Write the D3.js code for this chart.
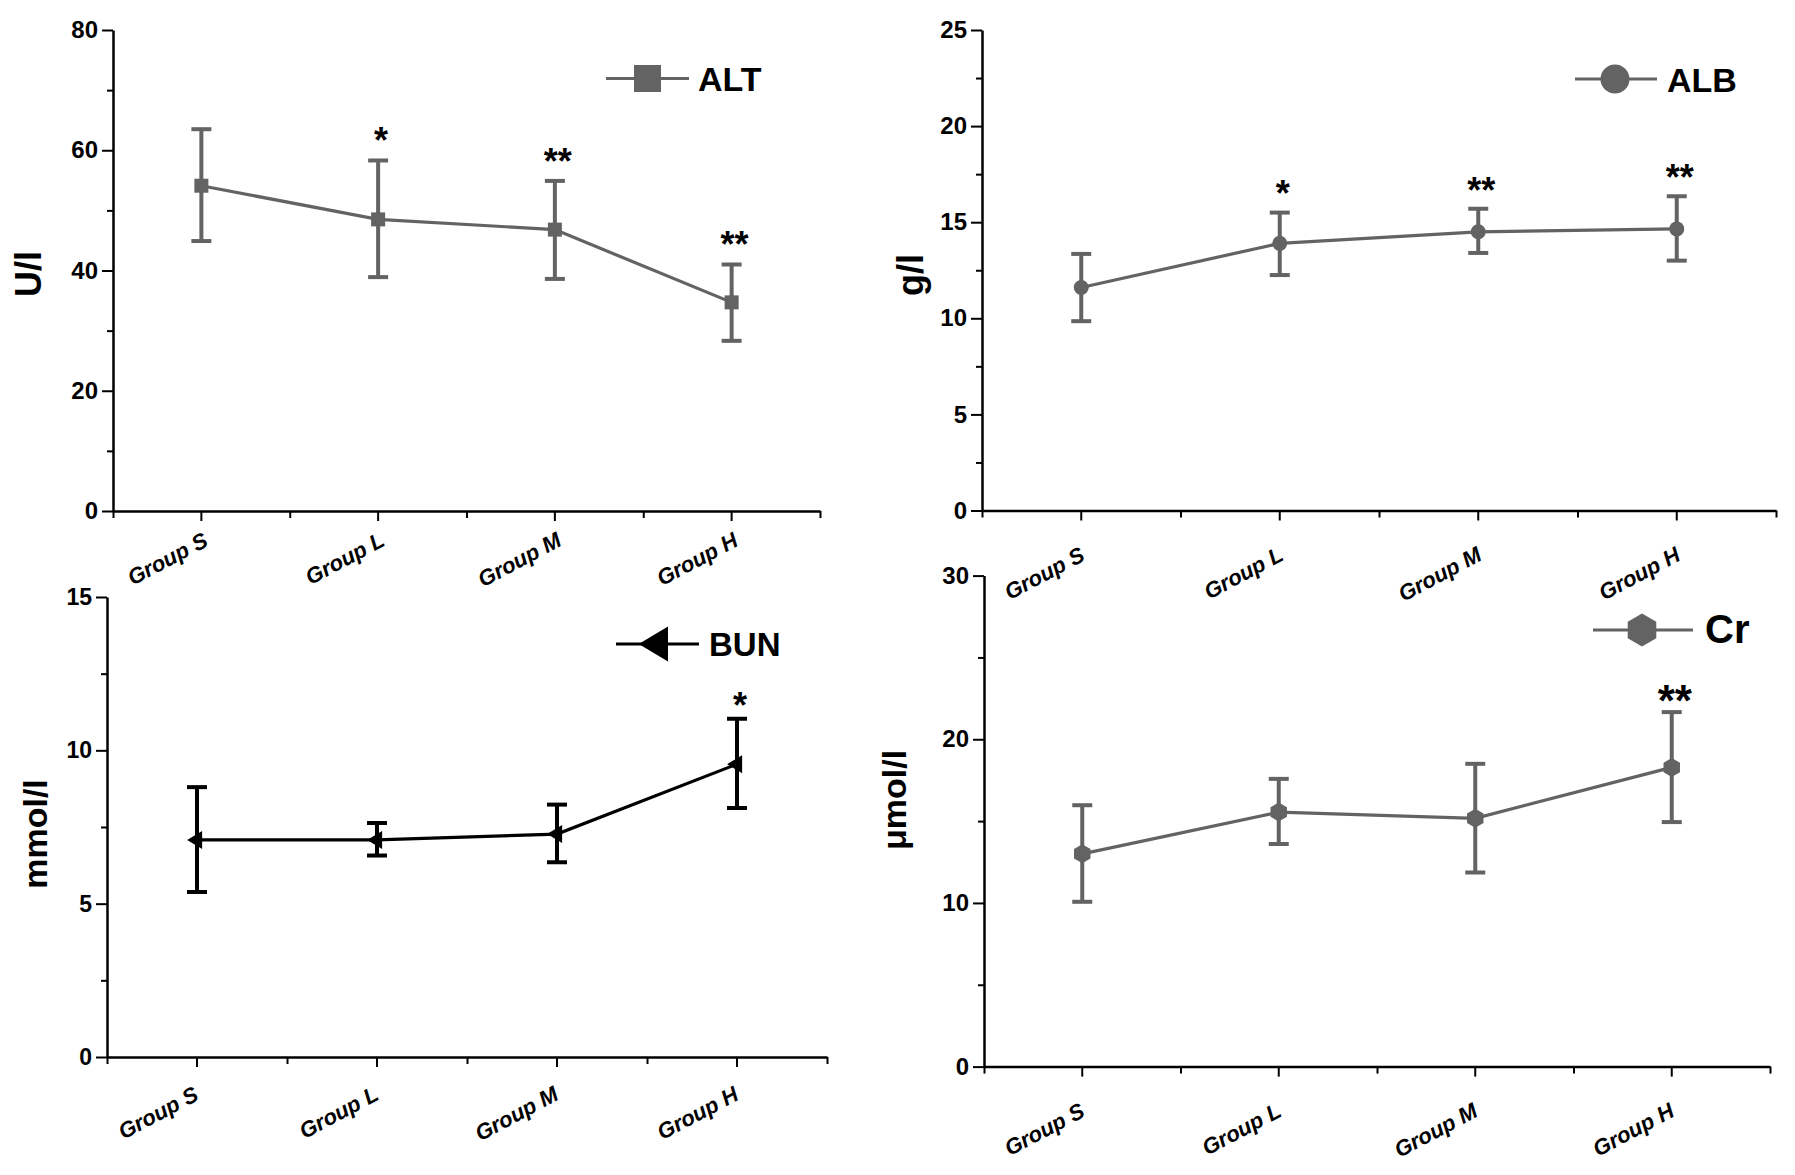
<!DOCTYPE html>
<html>
<head>
<meta charset="utf-8">
<script src="https://cdn.jsdelivr.net/npm/d3@7"></script>
<style>
  html, body { margin: 0; padding: 0; background: #fff; }
  svg { display: block; font-family: "Liberation Sans", Arial, Helvetica, sans-serif; }
</style>
</head>
<body>
<svg id="chart" width="1795" height="1175"></svg>
<script>
// ---------------- DATA ----------------
const groups = ["Group S", "Group L", "Group M", "Group H"];

const altMean  = [54.1, 48.5, 46.8, 34.7];
const altUpper = [63.5, 58.3, 54.9, 41.0];
const altLower = [44.9, 38.9, 38.6, 28.3];
const altStars = ["", "*", "**", "**"];
const altTicks = [0, 20, 40, 60, 80];
const altMinor = [10, 30, 50, 70];

const albMean  = [11.6, 13.9, 14.5, 14.65];
const albUpper = [13.35, 15.5, 15.7, 16.35];
const albLower = [9.85, 12.25, 13.4, 13.0];
const albStars = ["", "*", "**", "**"];
const albTicks = [0, 5, 10, 15, 20, 25];
const albMinor = [2.5, 7.5, 12.5, 17.5, 22.5];

const bunMean  = [7.08, 7.08, 7.27, 9.55];
const bunUpper = [8.8, 7.63, 8.23, 11.03];
const bunLower = [5.38, 6.57, 6.35, 8.12];
const bunStars = ["", "", "", "*"];
const bunTicks = [0, 5, 10, 15];
const bunMinor = [2.5, 7.5, 12.5];

const crMean  = [13.0, 15.55, 15.17, 18.28];
const crUpper = [15.97, 17.58, 18.5, 21.66];
const crLower = [10.07, 13.6, 11.86, 14.94];
const crStars = ["", "", "", "**"];
const crTicks = [0, 10, 20, 30];
const crMinor = [5, 15, 25];

// ---------------- SYMBOLS ----------------
const symSquare = { draw(c, r) { c.rect(-r, -r, 2 * r, 2 * r); } };
const symCircle = { draw(c, r) { c.moveTo(r, 0); c.arc(0, 0, r, 0, 2 * Math.PI); } };
const symTriLeft = { draw(c, r) { // r = half height, tip offset to the left
  c.moveTo(-1.1 * r, 0); c.lineTo(0.57 * r, -r); c.lineTo(0.57 * r, r); c.closePath(); } };
const symHex = { draw(c, r) { // pointy-top hexagon
  for (let i = 0; i < 6; i++) {
    const a = Math.PI / 2 + i * Math.PI / 3;
    const px = r * Math.cos(a), py = -r * Math.sin(a);
    if (i === 0) c.moveTo(px, py); else c.lineTo(px, py);
  }
  c.closePath(); } };

const svg = d3.select("#chart");
const GRAY = "#636363";

function panel(cfg) {
  const g = svg.append("g");
  const x = d3.scaleBand().domain(groups).range([cfg.x0, cfg.x1]).padding(0);
  const cx = d => x(d) + x.bandwidth() / 2;
  const xl = d3.scaleLinear().domain([0, groups.length]).range([cfg.x0, cfg.x1]);
  const y = d3.scaleLinear().domain([0, cfg.ticks[cfg.ticks.length - 1]]).range([cfg.yBot, cfg.yTop]);

  // y minor ticks
  g.append("g").attr("transform", `translate(${cfg.x0},0)`)
    .call(d3.axisLeft(y).tickValues(cfg.minor).tickSize(6).tickFormat(""))
    .call(s => s.select(".domain").remove())
    .call(s => s.selectAll("line").attr("stroke", "#000").attr("stroke-width", 2));
  // y major axis
  g.append("g").attr("transform", `translate(${cfg.x0},0)`)
    .call(d3.axisLeft(y).tickValues(cfg.ticks).tickSize(11).tickSizeOuter(0).tickPadding(4))
    .call(s => s.select(".domain").attr("stroke", "#000").attr("stroke-width", 2.5))
    .call(s => s.selectAll("line").attr("stroke", "#000").attr("stroke-width", 2))
    .call(s => s.selectAll("text").attr("font-size", cfg.tickFs).attr("font-weight", "bold")
      .attr("font-family", "'Liberation Sans', Arial, sans-serif").attr("fill", "#000"));
  // x minor ticks (band edges)
  g.append("g").attr("transform", `translate(0,${cfg.yBot})`)
    .call(d3.axisBottom(xl).tickValues(d3.range(groups.length + 1)).tickSize(7).tickFormat(""))
    .call(s => s.select(".domain").remove())
    .call(s => s.selectAll("line").attr("stroke", "#000").attr("stroke-width", 2));
  // x major axis
  g.append("g").attr("transform", `translate(0,${cfg.yBot})`)
    .call(d3.axisBottom(x).tickSize(10).tickSizeOuter(0))
    .call(s => s.select(".domain").attr("stroke", "#000").attr("stroke-width", 2.5))
    .call(s => s.selectAll("line").attr("stroke", "#000").attr("stroke-width", 2))
    .call(s => s.selectAll("text")
      .attr("y", null).attr("dy", null).attr("x", null)
      .attr("transform", `translate(${cfg.lx},${cfg.ly}) rotate(-28)`)
      .attr("text-anchor", "end")
      .attr("font-size", 22).attr("font-weight", "bold").attr("font-style", "italic")
      .attr("font-family", "'Liberation Sans', Arial, sans-serif").attr("fill", "#000"));

  // y title
  g.append("text")
    .attr("transform", `translate(${cfg.tx},${cfg.ty}) rotate(-90)`)
    .attr("text-anchor", "middle")
    .attr("font-size", cfg.tfs).attr("font-weight", "bold").attr("fill", "#000")
    .text(cfg.title);

  const rows = groups.map((gname, i) => ({ g: gname, m: cfg.mean[i], u: cfg.upper[i], l: cfg.lower[i], s: cfg.stars[i] }));

  // connecting line
  g.append("path")
    .datum(rows)
    .attr("fill", "none").attr("stroke", cfg.color).attr("stroke-width", 3.2)
    .attr("d", d3.line().x(d => cx(d.g)).y(d => y(d.m)));

  // error bars
  const eb = g.append("g").attr("stroke", cfg.color).attr("stroke-width", 4);
  eb.selectAll("line.v").data(rows).join("line").attr("class", "v")
    .attr("x1", d => cx(d.g)).attr("x2", d => cx(d.g))
    .attr("y1", d => y(d.u)).attr("y2", d => y(d.l));
  eb.selectAll("line.t").data(rows).join("line").attr("class", "t")
    .attr("x1", d => cx(d.g) - 10).attr("x2", d => cx(d.g) + 10)
    .attr("y1", d => y(d.u)).attr("y2", d => y(d.u));
  eb.selectAll("line.b").data(rows).join("line").attr("class", "b")
    .attr("x1", d => cx(d.g) - 10).attr("x2", d => cx(d.g) + 10)
    .attr("y1", d => y(d.l)).attr("y2", d => y(d.l));

  // markers
  g.selectAll("path.mk").data(rows).join("path").attr("class", "mk")
    .attr("transform", d => `translate(${cx(d.g)},${y(d.m)})`)
    .attr("fill", cfg.color)
    .attr("d", d3.symbol(cfg.symbol, cfg.msize));

  // stars
  g.selectAll("text.star").data(rows.filter(d => d.s)).join("text").attr("class", "star")
    .attr("x", d => cx(d.g) + 3)
    .attr("y", d => y(d.u) - cfg.starGap + 0.55 * cfg.starFs)
    .attr("text-anchor", "middle")
    .attr("font-size", cfg.starFs).attr("font-weight", "bold").attr("fill", "#000")
    .text(d => d.s);

  // legend
  const lg = cfg.legend;
  g.append("line").attr("x1", lg.x0).attr("x2", lg.x1).attr("y1", lg.y).attr("y2", lg.y)
    .attr("stroke", cfg.color).attr("stroke-width", 3.2);
  g.append("path").attr("transform", `translate(${lg.mx},${lg.y})`)
    .attr("fill", cfg.color).attr("d", d3.symbol(cfg.symbol, lg.msize));
  g.append("text").attr("x", lg.tx).attr("y", lg.ty)
    .attr("font-size", lg.fs).attr("font-weight", "bold").attr("fill", "#000")
    .text(cfg.name);
}

panel({ name: "ALT", title: "U/l", mean: altMean, upper: altUpper, lower: altLower, stars: altStars,
  ticks: altTicks, minor: altMinor, x0: 113, x1: 820, yTop: 30, yBot: 511, tickFs: 24,
  lx: 8, ly: 34, tx: 41, ty: 274, tfs: 36, color: GRAY, symbol: symSquare, msize: 7,
  starGap: 27, starFs: 36,
  legend: { x0: 606, x1: 689, y: 78.5, mx: 647.5, msize: 13.5, tx: 698, ty: 91, fs: 34 } });

panel({ name: "ALB", title: "g/l", mean: albMean, upper: albUpper, lower: albLower, stars: albStars,
  ticks: albTicks, minor: albMinor, x0: 982, x1: 1776, yTop: 30, yBot: 510.5, tickFs: 24,
  lx: 5, ly: 49, tx: 923, ty: 275, tfs: 36, color: GRAY, symbol: symCircle, msize: 7.5,
  starGap: 26, starFs: 36,
  legend: { x0: 1575, x1: 1657, y: 79, mx: 1615, msize: 14.5, tx: 1667, ty: 91.5, fs: 34 } });

panel({ name: "BUN", title: "mmol/l", mean: bunMean, upper: bunUpper, lower: bunLower, stars: bunStars,
  ticks: bunTicks, minor: bunMinor, x0: 107, x1: 827, yTop: 597, yBot: 1057, tickFs: 23,
  lx: 3, ly: 42, tx: 47, ty: 834, tfs: 34, color: "#000", symbol: symTriLeft, msize: 9,
  starGap: 21, starFs: 36,
  legend: { x0: 616, x1: 699, y: 644, mx: 658, msize: 17.5, tx: 709, ty: 656, fs: 33 } });

panel({ name: "Cr", title: "μmol/l", mean: crMean, upper: crUpper, lower: crLower, stars: crStars,
  ticks: crTicks, minor: crMinor, x0: 984, x1: 1770, yTop: 575.6, yBot: 1066.6, tickFs: 24,
  lx: 4, ly: 49, tx: 906, ty: 800, tfs: 34, color: GRAY, symbol: symHex, msize: 9.5,
  starGap: 20, starFs: 44,
  legend: { x0: 1593, x1: 1693, y: 630, mx: 1642, msize: 16.5, tx: 1705, ty: 643, fs: 40 } });
</script>
</body>
</html>
